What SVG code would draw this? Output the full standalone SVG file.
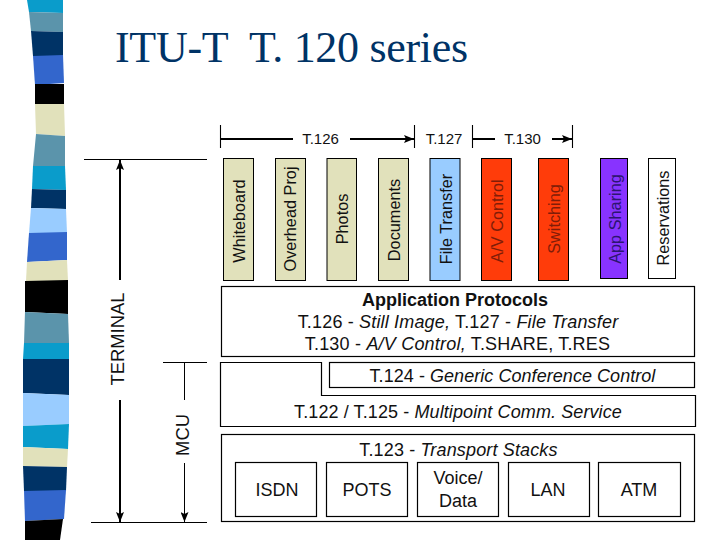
<svg xmlns="http://www.w3.org/2000/svg" width="720" height="540" viewBox="0 0 720 540">
<style>
text{font-family:"Liberation Sans",Arial,sans-serif;font-size:18px;fill:#111;text-anchor:middle}
.t{font-family:"Liberation Serif","Times New Roman",serif;font-size:44px;fill:#003366;text-anchor:start;letter-spacing:-.3px}
.s{font-size:15px}
.r{font-size:16.300px}
.b{stroke:#000;stroke-width:1.200;fill:#fff}
.v{stroke:#000;stroke-width:1}
.i{font-style:italic}
.l{stroke:#000;stroke-width:1.100;fill:none}
.d{fill:#801c08}
.p{fill:#2c1570}
</style>
<defs>
<marker id="a" viewBox="0 0 10 8" refX="10" refY="4" markerWidth="10" markerHeight="8" markerUnits="userSpaceOnUse" orient="auto-start-reverse"><path d="M0 0L10 4L0 8L2 4Z" fill="#000"/></marker>
</defs>
<g id="strip">
<polygon fill="#0a9ccb" points="27,0 63,0 63,13 29,12"/>
<polygon fill="#5b94ab" points="29,12 63,13 63,32 31,31"/>
<polygon fill="#003366" points="31,31 63,32 63,56 33,56"/>
<polygon fill="#3366cc" points="33,56 63,55 64,83 35,85"/>
<polygon fill="#000" points="35,84 64,84 64,104 35,104"/>
<polygon fill="#e1e1bb" points="35,104 64,104 65,136 36,134"/>
<polygon fill="#5b94ab" points="36,134 65,136 65,166 33,166"/>
<polygon fill="#0a9ccb" points="33,166 65,166 66,190 32,189"/>
<polygon fill="#003366" points="32,189 66,190 66,209 31,208"/>
<polygon fill="#99ccff" points="31,208 66,209 67,233 29,233"/>
<polygon fill="#3366cc" points="29,233 67,232 67,260 27,262"/>
<polygon fill="#e1e1bb" points="27,262 67,260 68,281 26,281"/>
<polygon fill="#000" points="25,281 68,280 68,314 25,312"/>
<polygon fill="#5b94ab" points="25,312 68,314 69,343 24,343"/>
<polygon fill="#0a9ccb" points="24,343 69,343 69,359 23,359"/>
<polygon fill="#003366" points="23,359 69,359 69,395 23,393"/>
<polygon fill="#99ccff" points="23,393 69,395 69,424 23,426"/>
<polygon fill="#0a9ccb" points="23,426 69,424 68,449 23,447"/>
<polygon fill="#e1e1bb" points="23,447 68,449 67,467 23,466"/>
<polygon fill="#003366" points="23,466 67,467 66,491 24,491"/>
<polygon fill="#3366cc" points="24,491 66,490 64,519 25,521"/>
<polygon fill="#000" points="25,521 63,519 60,540 25,540"/>
</g>
<text id="title" class="t" x="115" y="62">ITU-T&#160; T. 120 series</text>
<g id="connectors">
<path class="l" d="M220.500 125V148M414.500 125V148M472.500 125V148M572.500 125V148M84 159.500H207M163 362.500H207M91 522.500H207"/>
<path d="M293 139H221M350 139H414" stroke="#000" stroke-width="1.800" fill="none" marker-end="url(#a)"/>
<path d="M495 139H473M552 139H572" stroke="#000" stroke-width="1.800" fill="none" marker-end="url(#a)"/>
<path d="M120 400V522" stroke="#000" stroke-width="2" fill="none" marker-end="url(#a)"/>
<path d="M120 280V160" stroke="#000" stroke-width="2" fill="none" marker-end="url(#a)"/>
<path d="M184.500 400V363M184.500 463V522" stroke="#000" stroke-width="1" fill="none" marker-end="url(#a)"/>
</g>
<g id="labels-top"><text class="s" x="320.500" y="144">T.126</text><text class="s" x="444" y="144">T.127</text><text class="s" x="522.500" y="144">T.130</text></g>
<g id="whiteboard"><rect x="223.500" y="158.500" width="30" height="122" fill="#e1e1bb" class="v"/><text class="r" transform="translate(245 221) rotate(-90)">Whiteboard</text></g>
<g id="overhead"><rect x="275.500" y="158.500" width="30" height="122" fill="#e1e1bb" class="v"/><text class="r" transform="translate(296 219) rotate(-90)">Overhead Proj</text></g>
<g id="photos"><rect x="327" y="158.500" width="29.500" height="122" fill="#e1e1bb" class="v"/><text class="r" transform="translate(348 219) rotate(-90)">Photos</text></g>
<g id="documents"><rect x="378.500" y="158.500" width="30" height="122" fill="#e1e1bb" class="v"/><text class="r" transform="translate(400 220) rotate(-90)">Documents</text></g>
<g id="file-transfer"><rect x="430" y="158.500" width="30" height="122" fill="#99ccff" class="v"/><text class="r" transform="translate(452 219) rotate(-90)">File Transfer</text></g>
<g id="av-control"><rect x="481.500" y="158.500" width="30" height="122" fill="#ff3c0a" class="v"/><text class="r d" transform="translate(503 221) rotate(-90)">A/V Control</text></g>
<g id="switching"><rect x="538.500" y="158.500" width="30" height="122" fill="#ff3c0a" class="v"/><text class="r d" transform="translate(560 219) rotate(-90)">Switching</text></g>
<g id="app-sharing"><rect x="600.500" y="158.500" width="27" height="120" fill="#8833ff" class="v"/><text class="r p" transform="translate(621 219) rotate(-90)">App Sharing</text></g>
<g id="reservations"><rect x="648.500" y="158.500" width="27" height="120" fill="#fff" class="v"/><text class="r" transform="translate(669 218) rotate(-90)">Reservations</text></g>
<g id="terminal"><text style="font-size:18.400px" transform="translate(124 339) rotate(-90)">TERMINAL</text></g>
<g id="mcu"><text style="font-size:18.400px" transform="translate(189 435) rotate(-90)">MCU</text></g>
<g id="application"><rect class="b" x="221.500" y="286.500" width="473" height="70"/>
<text x="455" y="306" font-weight="bold">Application Protocols</text>
<text x="458" y="328" letter-spacing=".17">T.126 - <tspan class="i">Still Image,</tspan> T.127 - <tspan class="i">File Transfer</tspan></text>
<text x="457.500" y="350" letter-spacing=".2">T.130 - <tspan class="i">A/V Control,</tspan> T.SHARE, T.RES</text></g>
<g id="t122"><path class="b" d="M220.500 362.500H321.500V395.500H695.500V426.500H220.500Z"/><text x="458" y="418" letter-spacing=".1">T.122 / T.125 - <tspan class="i">Multipoint Comm. Service</tspan></text></g>
<g id="t124"><rect class="b" x="329.500" y="362.500" width="365" height="25"/><text x="512.500" y="382" letter-spacing=".05">T.124 - <tspan class="i">Generic Conference Control</tspan></text></g>
<g id="t123"><rect class="b" x="221.500" y="434.500" width="473" height="87"/><text x="458.500" y="456" letter-spacing=".15">T.123 - <tspan class="i">Transport Stacks</tspan></text></g>
<g id="isdn"><rect class="b" x="235.500" y="462.500" width="81" height="54"/><text x="277" y="496">ISDN</text></g>
<g id="pots"><rect class="b" x="326.500" y="462.500" width="81" height="54"/><text x="367" y="496">POTS</text></g>
<g id="voice"><rect class="b" x="417.500" y="462.500" width="81" height="54"/><text x="458" y="484">Voice/</text><text x="458" y="507">Data</text></g>
<g id="lan"><rect class="b" x="508.500" y="462.500" width="81" height="54"/><text x="548" y="496">LAN</text></g>
<g id="atm"><rect class="b" x="598.500" y="462.500" width="82" height="54"/><text x="639" y="496">ATM</text></g>
</svg>
